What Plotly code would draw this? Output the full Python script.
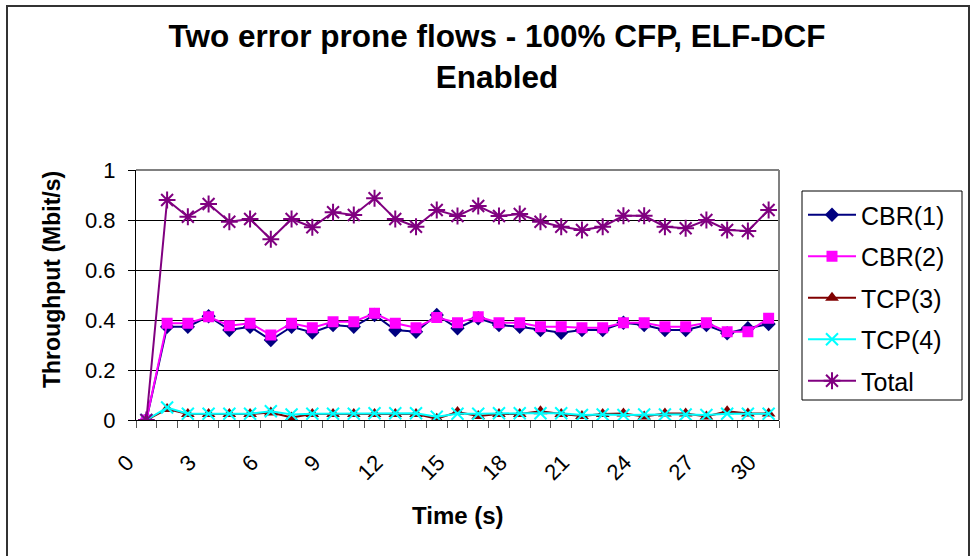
import plotly.graph_objects as go

# Time axis (s) and per-flow throughput (Mbit/s)
time_s = list(range(31))
tick_times = list(range(0, 31, 3))

cbr1 = [0, 0.373, 0.373, 0.415, 0.36, 0.373, 0.32, 0.373, 0.35, 0.38, 0.373,
        0.42, 0.36, 0.353, 0.42, 0.367, 0.407, 0.38, 0.373, 0.36, 0.349,
        0.36, 0.36, 0.389, 0.38, 0.36, 0.36, 0.38, 0.347, 0.367, 0.384]
cbr2 = [0, 0.387, 0.387, 0.413, 0.377, 0.387, 0.34, 0.387, 0.369, 0.393, 0.393,
        0.427, 0.387, 0.369, 0.41, 0.389, 0.413, 0.389, 0.389, 0.373, 0.373,
        0.369, 0.369, 0.389, 0.389, 0.373, 0.373, 0.389, 0.353, 0.353, 0.407]
tcp3 = [0, 0.044, 0.024, 0.024, 0.024, 0.024, 0.03, 0.01, 0.024, 0.024, 0.024,
        0.024, 0.024, 0.024, 0.005, 0.032, 0.016, 0.024, 0.024, 0.035, 0.024,
        0.016, 0.024, 0.026, 0.014, 0.026, 0.026, 0.014, 0.035, 0.026, 0.026]
tcp4 = [0, 0.05, 0.025, 0.025, 0.025, 0.025, 0.035, 0.022, 0.025, 0.025, 0.025,
        0.027, 0.027, 0.027, 0.013, 0.025, 0.025, 0.027, 0.027, 0.027, 0.027,
        0.02, 0.022, 0.02, 0.022, 0.022, 0.022, 0.02, 0.025, 0.025, 0.025]
total = [0, 0.88, 0.813, 0.864, 0.793, 0.804, 0.723, 0.804, 0.771, 0.831, 0.82,
         0.887, 0.804, 0.773, 0.84, 0.816, 0.856, 0.816, 0.824, 0.793, 0.773,
         0.76, 0.773, 0.817, 0.817, 0.773, 0.767, 0.8, 0.76, 0.756, 0.84]

series = [
    ("CBR(1)", cbr1, "#000080", dict(symbol="diamond", size=11)),
    ("CBR(2)", cbr2, "#FF00FF", dict(symbol="square", size=11)),
    ("TCP(3)", tcp3, "#800000", dict(symbol="triangle-up", size=12)),
    ("TCP(4)", tcp4, "#00FFFF", dict(symbol="x-thin", size=12,
                                      line=dict(color="#00FFFF", width=2))),
    ("Total", total, "#800080", dict(symbol="asterisk", size=14,
                                      line=dict(color="#800080", width=2))),
]

FONT = "Liberation Sans, Arial, sans-serif"

fig = go.Figure()
for name, vals, color, mk in series:
    fig.add_trace(go.Scatter(
        x=time_s, y=vals, name=name, mode="lines+markers",
        legendgroup=name,
        line=dict(color=color, width=2),
        marker=dict(color=color, **mk),
    ))

fig.update_layout(
    width=972, height=556, autosize=False,
    margin=dict(l=136, r=193, t=170, b=136),
    paper_bgcolor="white", plot_bgcolor="white",
    font=dict(family=FONT, color="black", size=22),
    title=dict(
        text="Two error prone flows - 100% CFP, ELF-DCF<br>Enabled",
        font=dict(family=FONT, size=31.5, weight="bold", color="black"),
        x=497 / 972, xanchor="center", xref="container",
        y=1 - 47 / 556, yanchor="middle", yref="container",
    ),
    showlegend=True,
    legend=dict(
        x=(803 - 136) / 643, y=(420 - 192) / 250,
        xanchor="left", yanchor="top",
        borderwidth=0, bgcolor="rgba(0,0,0,0)",
        font=dict(family=FONT, size=25, color="black"),
        itemwidth=48, tracegroupgap=6,
    ),
)

fig.update_xaxes(
    range=[-0.5, 30.5], tickmode="array", tickvals=tick_times,
    ticktext=[str(t) for t in tick_times],
    tickangle=-45, ticks="", ticklabelstandoff=20, ticklabelshift=-19,
    tickfont=dict(family=FONT, size=22),
    showgrid=False, zeroline=False,
    showline=True, linecolor="#000000", linewidth=1,
    minor=dict(tickmode="linear", tick0=-0.5, dtick=1, ticks="outside",
               ticklen=7, tickcolor="#555555", tickwidth=1, showgrid=False),
)
fig.update_yaxes(
    range=[0, 1], dtick=0.2, tick0=0,
    ticks="outside", ticklen=7, tickcolor="#000000",
    ticklabelstandoff=8,
    tickfont=dict(family=FONT, size=22),
    showgrid=True, gridcolor="#000000", gridwidth=1, zeroline=False,
    showline=True, linecolor="#000000", linewidth=1,
)

# plot-area border (top/right), legend box and the outer chart frame
fig.add_shape(type="line", xref="paper", yref="paper", x0=0, x1=1, y0=1, y1=1,
              line=dict(color="#808080", width=2))
fig.add_shape(type="line", xref="paper", yref="paper", x0=1, x1=1, y0=0, y1=1,
              line=dict(color="#808080", width=2))
fig.add_shape(type="rect", xref="paper", yref="paper",
              x0=(802 - 136) / 643, x1=(962 - 136) / 643,
              y0=(420 - 400) / 250, y1=(420 - 191) / 250,
              line=dict(color="#000000", width=1), fillcolor="white")
fig.add_shape(type="rect", xref="paper", yref="paper",
              x0=(7 - 136) / 643, x1=(969 - 136) / 643,
              y0=(420 - 562) / 250, y1=(420 - 6) / 250,
              line=dict(color="#333333", width=2), layer="below")

# axis titles
fig.add_annotation(text="Throughput (Mbit/s)", textangle=-90, showarrow=False,
                   xref="paper", yref="paper",
                   x=(52 - 136) / 643, y=(420 - 280) / 250,
                   xanchor="center", yanchor="middle",
                   font=dict(family=FONT, size=23, weight="bold", color="black"))
fig.add_annotation(text="Time (s)", showarrow=False,
                   xref="paper", yref="paper",
                   x=(458 - 136) / 643, y=(420 - 515) / 250,
                   xanchor="center", yanchor="middle",
                   font=dict(family=FONT, size=24, weight="bold", color="black"))

fig.write_html("out.html")
